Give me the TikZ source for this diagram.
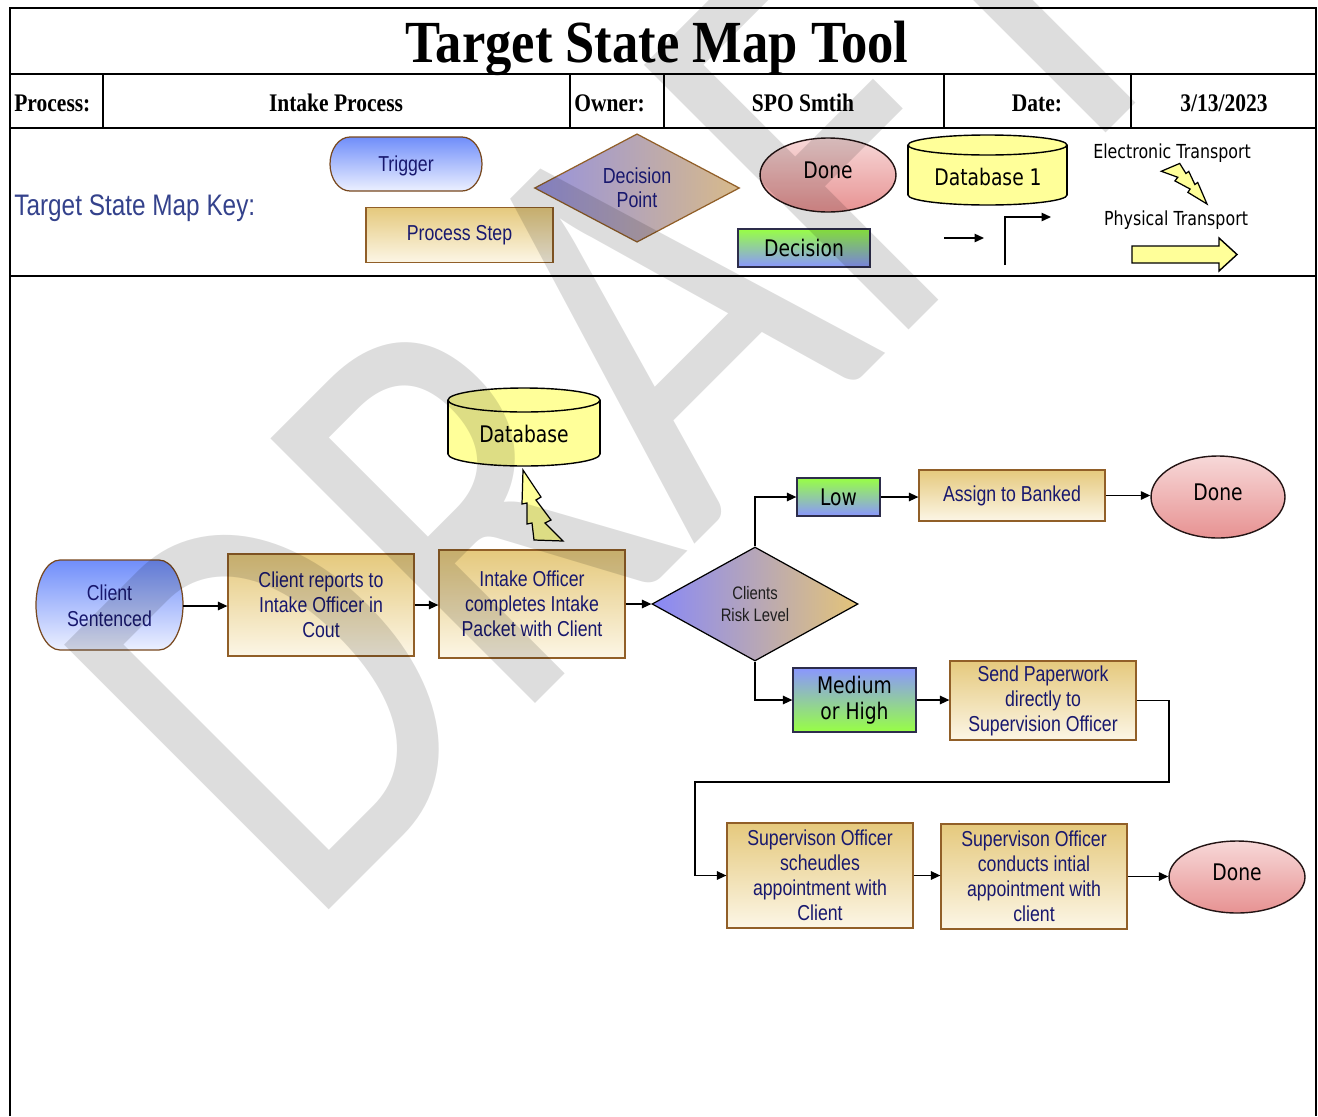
\documentclass[tikz,border=0pt]{standalone}
\usepackage{fontspec}
\setmainfont{Liberation Serif}
\newfontfamily\hdrfont{Liberation Serif}[FakeStretch=0.85]
\newfontfamily\titlefont{Liberation Serif}[FakeStretch=0.88]
\newfontfamily\narrowfont{Liberation Sans}[FakeStretch=0.82]
\newfontfamily\tahfont{DejaVu Sans}[FakeStretch=0.82]
\newfontfamily\wmfont{Carlito}[FakeStretch=0.81]
\usetikzlibrary{shapes.geometric,arrows.meta}

\definecolor{navytext}{RGB}{24,24,110}
\definecolor{keyblue}{RGB}{52,66,140}
\definecolor{proctop}{RGB}{229,201,125}
\definecolor{procbot}{RGB}{252,246,230}
\definecolor{procedge}{RGB}{145,95,40}
\definecolor{trigtop}{RGB}{112,142,250}
\definecolor{trigbot}{RGB}{236,240,255}
\definecolor{trigedge}{RGB}{120,72,30}
\definecolor{decgreen}{RGB}{152,255,68}
\definecolor{decblue}{RGB}{138,150,255}
\definecolor{decedge}{RGB}{45,45,75}
\definecolor{diaL}{RGB}{136,136,248}
\definecolor{diaR}{RGB}{228,196,120}
\definecolor{keydiaL}{RGB}{150,146,222}
\definecolor{keydiaR}{RGB}{216,186,138}
\definecolor{donetop}{RGB}{247,216,216}
\definecolor{donebot}{RGB}{231,146,146}
\definecolor{doneedge}{RGB}{35,20,20}
\definecolor{cylyellow}{RGB}{255,255,153}
\definecolor{risktext}{RGB}{30,30,30}

\begin{document}
\begin{tikzpicture}[x=0.02cm,y=-0.02cm,
  frameline/.style={draw=black,line width=0.85pt},
  rule/.style={draw=black,line width=1.7pt},
  flow/.style={draw=black,line width=0.85pt,-{Triangle[length=5.4pt,width=4.8pt]}},
  procbox/.style={rectangle,draw=procedge,line width=0.7pt,top color=proctop,bottom color=procbot,
    text=navytext,font=\narrowfont\fontsize{12.3}{14.2}\selectfont,align=center,inner sep=0pt,
    minimum width=3.72cm},
  stadtext/.style={inner sep=0pt,text=navytext,font=\narrowfont\fontsize{12.3}{14.8}\selectfont,align=center},
  stadshape/.style={draw=trigedge,line width=0.7pt,top color=trigtop,bottom color=trigbot},
  gobox/.style={rectangle,draw=decedge,line width=0.7pt,top color=decgreen,bottom color=decblue,
    font=\tahfont\fontsize{13}{14.7}\selectfont,align=center,inner sep=0pt},
  riskbox/.style={gobox,top color=decblue,bottom color=decgreen},
  doneoval/.style={ellipse,draw=doneedge,line width=0.8pt,top color=donetop,bottom color=donebot,
    font=\tahfont\fontsize{13}{15}\selectfont,inner sep=0pt,text depth=6pt},
  cyl/.style={fill=cylyellow,draw=black,line width=0.8pt},
  dbtext/.style={font=\tahfont\fontsize{13}{15}\selectfont,inner sep=0pt},
  keysmall/.style={font=\tahfont\fontsize{11}{13}\selectfont,inner sep=0pt},
  hdr/.style={font=\hdrfont\bfseries\fontsize{14.4}{17}\selectfont,inner sep=0pt,anchor=base},
  boltstyle/.style={fill=cylyellow,draw=black,line width=0.7pt,line join=miter},
  bolt/.pic={\path[boltstyle] (0,0) -- (18,27) -- (13,30) -- (28,50) -- (22,53) -- (40,71)
     -- (11,70) -- (9,53) -- (4,54) -- (4,33) -- (-1,34) -- cycle;}
]
\useasboundingbox (0,0) rectangle (1318,1116);
\fill[white] (0,0) rectangle (1318,1116);

% ---------- form frame ----------
\draw[frameline] (10,1116) -- (10,8) -- (1316,8) -- (1316,1116);
\draw[rule] (10,74) -- (1316,74);
\draw[rule] (10,128) -- (1316,128);
\draw[rule] (10,276) -- (1316,276);
\foreach \xx in {103,570,664,944,1131} \draw[frameline] (\xx,74) -- (\xx,128);

\node[anchor=base,inner sep=0pt,font=\titlefont\bfseries\fontsize{34}{40}\selectfont] (title) at (657,62) {Target State Map Tool};
\node[hdr,anchor=base west] (plabel) at (14,111) {Process:};
\node[hdr] (pval) at (336,111) {Intake Process};
\node[hdr,anchor=base west] (olabel) at (574,111) {Owner:};
\node[hdr] (oval) at (803,111) {SPO Smtih};
\node[hdr] (dlabel) at (1037,111) {Date:};
\node[hdr] (dval) at (1224,111) {3/13/2023};

% ---------- key ----------
\node[anchor=base west,inner sep=0pt,text=keyblue,font=\narrowfont\fontsize{16.9}{20}\selectfont] (keytitle) at (14,215) {Target State Map Key:};

\path[stadshape] (350,137) -- (462,137) arc[start angle=-90,end angle=90,x radius=20,y radius=27]
  -- (350,191) arc[start angle=90,end angle=270,x radius=20,y radius=27] -- cycle;
\node[stadtext,minimum width=3.04cm,minimum height=1.08cm] (ktrig) at (406,166) {Trigger};

\node[procbox,minimum width=3.74cm,minimum height=1.10cm] (kproc) at (459.5,235) {Process Step};

\node[diamond,draw=procedge,line width=0.7pt,left color=keydiaL,right color=keydiaR,
  minimum width=4.10cm,minimum height=1.74cm,inner sep=0pt,text=navytext,
  font=\narrowfont\fontsize{12.4}{13.6}\selectfont,align=center] (kdia) at (637,188) {Decision\\Point};

\node[doneoval,minimum width=2.72cm,minimum height=1.48cm] (kdone) at (828,175) {Done};

\filldraw[cyl] (987.5,195) ellipse [x radius=79.5,y radius=10];
\fill[cylyellow] (908,145) rectangle (1067,195);
\draw[black,line width=0.8pt] (908,145) -- (908,195) (1067,145) -- (1067,195);
\filldraw[cyl] (987.5,145) ellipse [x radius=79.5,y radius=10];
\node[dbtext] (kdb) at (988,177) {Database 1};

\node[gobox,minimum width=2.64cm,minimum height=0.76cm] (kdec) at (804,248) {Decision};

\coordinate (ka1) at (944,238);
\coordinate (ka2) at (984,238);
\draw[flow] (ka1) -- (ka2);
\coordinate (kb1) at (1005,265);
\coordinate (kb2) at (1051,217);
\draw[flow] (kb1) |- (kb2);

\node[keysmall] (ket) at (1172,153) {Electronic Transport};
\pic[rotate=205,scale=0.69] at (1207,204) {bolt};
\node[keysmall] (kpt) at (1176,220) {Physical Transport};
\filldraw[fill=cylyellow,draw=black,line width=0.8pt] (1132,246) -- (1219,246) -- (1219,238)
  -- (1237,254.5) -- (1219,271) -- (1219,263) -- (1132,263) -- cycle;

% ---------- intake process ----------
\path[stadshape] (60,560) -- (159,560) arc[start angle=-90,end angle=90,x radius=24,y radius=45]
  -- (60,650) arc[start angle=90,end angle=270,x radius=24,y radius=45] -- cycle;
\node[stadtext,minimum width=2.94cm,minimum height=1.80cm] (cs) at (109.5,606) {Client\\Sentenced};

\node[procbox,minimum height=2.04cm] (cr) at (321,605) {Client reports to\\Intake Officer in\\Cout};
\node[procbox,minimum height=2.16cm] (io) at (532,604) {Intake Officer\\completes Intake\\Packet with Client};

\filldraw[cyl] (524,454) ellipse [x radius=76,y radius=12];
\fill[cylyellow] (448,400) rectangle (600,454);
\draw[black,line width=0.8pt] (448,400) -- (448,454) (600,400) -- (600,454);
\filldraw[cyl] (524,400) ellipse [x radius=76,y radius=12];
\node[dbtext] (db) at (524,434) {Database};
\pic at (523,470) {bolt};

\node[diamond,draw=black,line width=0.7pt,left color=diaL,right color=diaR,
  minimum width=4.12cm,minimum height=2.28cm,inner sep=0pt,text=risktext,
  font=\narrowfont\fontsize{10.3}{12.5}\selectfont,align=center] (risk) at (755,604) {Clients\\Risk Level};

\node[gobox,minimum width=1.66cm,minimum height=0.76cm] (low) at (838.5,497) {Low};
\node[procbox,minimum height=1.02cm] (asg) at (1012,495.5) {Assign to Banked};
\node[doneoval,minimum width=2.68cm,minimum height=1.64cm] (done1) at (1218,497) {Done};

\node[riskbox,minimum width=2.46cm,minimum height=1.28cm] (med) at (854.5,700) {Medium\\or High};
\node[procbox,minimum height=1.58cm] (spw) at (1043,700.5) {Send Paperwork\\directly to\\Supervision Officer};

\node[procbox,minimum height=2.10cm] (so1) at (820,875.5) {Supervison Officer\\scheudles\\appointment with\\Client};
\node[procbox,minimum height=2.10cm] (so2) at (1034,876.5) {Supervison Officer\\conducts intial\\appointment with\\client};
\node[doneoval,minimum width=2.72cm,minimum height=1.44cm] (done2) at (1237,877) {Done};

% ---------- connectors ----------
\draw[flow] (cs.east) -- (cs.east -| cr.west);
\draw[flow] (cr.east) -- (cr.east -| io.west);
\draw[flow] (io.east) -- (io.east -| risk.west);
\draw[flow] (risk.north) |- (low.west);
\draw[flow] (low.east) -- (low.east -| asg.west);
\draw[flow] (asg.east) -- (asg.east -| done1.west);
\draw[flow] (risk.south) |- (med.west);
\draw[flow] (med.east) -- (med.east -| spw.west);
\coordinate (r1) at (1169,782);
\coordinate (r2) at (695,782);
\draw[flow] (spw.east) -| (r1) -- (r2) |- (so1.west);
\draw[flow] (so1.east) -- (so1.east -| so2.west);
\draw[flow] (so2.east) -- (so2.east -| done2.west);

% ---------- watermark ----------
\node[rotate=45,anchor=base west,inner sep=0pt,text=black,text opacity=0.135,
  font=\wmfont\fontsize{332}{332}\selectfont] (wm) at (306,933) {DRAFT};
\end{tikzpicture}
\end{document}
